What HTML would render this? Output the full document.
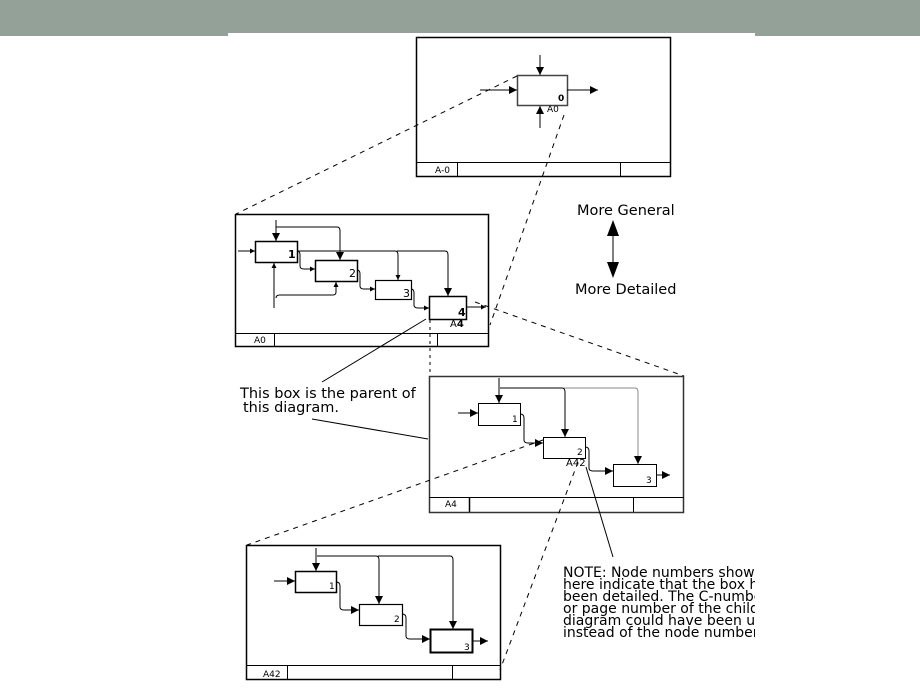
<!DOCTYPE html>
<html><head><style>
html,body{margin:0;padding:0;background:#fff;width:920px;height:690px;overflow:hidden}
svg{display:block}
text{font-family:"DejaVu Sans","Liberation Sans",sans-serif;fill:#000}
</style></head><body>
<svg width="920" height="690" viewBox="0 0 920 690" xmlns="http://www.w3.org/2000/svg">
<defs>
<marker id="a" viewBox="0 0 10 10" refX="10" refY="5" markerWidth="7" markerHeight="5" orient="auto" markerUnits="userSpaceOnUse"><path d="M0,0L10,5L0,10z" fill="#000"/></marker>
<marker id="b" viewBox="0 0 10 10" refX="10" refY="5" markerWidth="12" markerHeight="8" orient="auto" markerUnits="userSpaceOnUse"><path d="M0,0L10,5L0,10z" fill="#000"/></marker>
</defs>
<rect x="0" y="0" width="920" height="36" fill="#93a198"/>
<rect x="228" y="33" width="527" height="3" fill="#fff"/>

<g fill="none" stroke="#000" stroke-width="1">
<rect x="416.5" y="37.5" width="254" height="139" stroke-width="1.5"/>
<line x1="416" y1="162.5" x2="670" y2="162.5"/>
<line x1="457.5" y1="162" x2="457.5" y2="176"/>
<line x1="620.5" y1="162" x2="620.5" y2="176"/>
<rect x="517.5" y="75.5" width="50" height="30" stroke="#444" stroke-width="1.5"/>
<line x1="540" y1="55" x2="540" y2="75" marker-end="url(#b)"/>
<line x1="540" y1="128" x2="540" y2="106" marker-end="url(#b)"/>
<line x1="480" y1="90" x2="517" y2="90" marker-end="url(#b)"/>
<line x1="567" y1="90" x2="598" y2="90" marker-end="url(#b)"/>

<rect x="235.5" y="214.5" width="253" height="132" stroke-width="1.5"/>
<line x1="235" y1="333.5" x2="488" y2="333.5"/>
<line x1="274.5" y1="333" x2="274.5" y2="346"/>
<line x1="437.5" y1="333" x2="437.5" y2="346"/>
<rect x="255.5" y="241.5" width="42" height="21" stroke-width="1.5"/>
<rect x="315.5" y="260.5" width="42" height="21" stroke-width="1.5"/>
<rect x="375.5" y="280.5" width="36" height="19" stroke-width="1.2"/>
<rect x="429.5" y="296.5" width="37" height="23" stroke-width="1.5"/>
<line x1="238" y1="251" x2="255" y2="251" marker-end="url(#a)"/>
<line x1="276" y1="220" x2="276" y2="241" marker-end="url(#b)"/>
<path d="M276,227 H337 q3,0 3,4 V260" marker-end="url(#b)"/>
<path d="M297,251 H395 q3,0 3,4 V280" marker-end="url(#a)"/>
<path d="M397,251 H445 q3,0 3,4 V296" marker-end="url(#b)"/>
<path d="M297,251 q3,0 3,4 V266 q0,3 4,3 H315" marker-end="url(#a)"/>
<path d="M357,270 q3,0 3,4 V286 q0,3 4,3 H375" marker-end="url(#a)"/>
<path d="M411,289 q3,0 3,4 V305 q0,3 4,3 H429" marker-end="url(#a)"/>
<line x1="466" y1="307" x2="486" y2="307" marker-end="url(#a)"/>
<path d="M274,308 V263" marker-end="url(#a)"/>
<path d="M276,298 q0,-3 4,-3 H333 q3,0 3,-3 V282" marker-end="url(#a)"/>

<rect x="429.5" y="376.5" width="254" height="136" stroke-width="1.5" stroke="#333"/>
<line x1="429" y1="497.5" x2="684" y2="497.5"/>
<line x1="469.5" y1="497" x2="469.5" y2="512" stroke-width="1.5"/>
<line x1="633.5" y1="497" x2="633.5" y2="512"/>
<rect x="478.5" y="403.5" width="42" height="22"/>
<rect x="543.5" y="437.5" width="42" height="21"/>
<rect x="613.5" y="464.5" width="43" height="22"/>
<line x1="458" y1="413" x2="478" y2="413" marker-end="url(#b)"/>
<line x1="499" y1="378" x2="499" y2="403" marker-end="url(#b)"/>
<path d="M500,388 H562 q3,0 3,4 V437" marker-end="url(#b)"/>
<path d="M564,388 H635 q3,0 3,4 V464" marker-end="url(#b)" stroke="#888"/>
<path d="M520,414 q4,0 4,4 V440 q0,3 4,3 H543" marker-end="url(#b)"/>
<path d="M585,447 q4,0 4,4 V468 q0,3 4,3 H613" marker-end="url(#b)"/>
<line x1="656" y1="475" x2="670" y2="475" marker-end="url(#b)"/>

<rect x="246.5" y="545.5" width="254" height="134" stroke-width="1.5"/>
<line x1="246" y1="665.5" x2="500" y2="665.5"/>
<line x1="287.5" y1="665" x2="287.5" y2="679"/>
<line x1="452.5" y1="665" x2="452.5" y2="679"/>
<rect x="295.5" y="571.5" width="41" height="21" stroke-width="1.5"/>
<rect x="359.5" y="604.5" width="43" height="21" stroke-width="1.2"/>
<rect x="430.5" y="629.5" width="42" height="23" stroke-width="2"/>
<line x1="274" y1="581" x2="295" y2="581" marker-end="url(#b)"/>
<line x1="316" y1="548" x2="316" y2="571" marker-end="url(#b)"/>
<path d="M317,556 H376 q3,0 3,4 V604" marker-end="url(#b)"/>
<path d="M378,556 H450 q3,0 3,4 V629" marker-end="url(#b)"/>
<path d="M336,582 q4,0 4,4 V607 q0,3 4,3 H359" marker-end="url(#b)"/>
<path d="M402,614 q4,0 4,4 V636 q0,3 4,3 H430" marker-end="url(#b)"/>
<line x1="472" y1="641" x2="488" y2="641" marker-end="url(#b)"/>

<g stroke-dasharray="5,5">
<line x1="517" y1="76" x2="236" y2="214"/>
<line x1="564" y1="115" x2="490" y2="325"/>
<line x1="475" y1="302" x2="684" y2="376"/>
<line x1="430" y1="320" x2="430" y2="376" stroke-dasharray="3,4"/>
<line x1="543" y1="440" x2="247" y2="545"/>
<line x1="578" y1="462" x2="500" y2="670"/>
</g>
<line x1="426" y1="319" x2="322" y2="382"/>
<line x1="312" y1="419" x2="428" y2="439"/>
<line x1="586" y1="467" x2="613" y2="557"/>
<line x1="613" y1="230" x2="613" y2="268"/>
</g>
<path d="M613,220 L607,236 L619,236 Z" fill="#000"/>
<path d="M613,278 L607,262 L619,262 Z" fill="#000"/>

<g font-size="9">
<text x="435" y="173">A-0</text>
<text x="558" y="101" font-weight="bold">0</text>
<text x="547" y="112">A0</text>
<text x="254" y="343">A0</text>
<text x="288" y="258" font-family="Liberation Serif" font-weight="bold" font-size="11">1</text>
<text x="349" y="277" font-family="Liberation Serif" font-size="11">2</text>
<text x="403" y="297" font-family="Liberation Serif" font-size="11">3</text>
<text x="458" y="316" font-family="Liberation Serif" font-weight="bold" font-size="11">4</text>
<text x="450" y="327" font-size="10">A<tspan font-weight="bold">4</tspan></text>
<text x="445" y="507">A4</text>
<text x="512" y="422">1</text>
<text x="577" y="455">2</text>
<text x="646" y="483">3</text>
<text x="566" y="466" font-size="10">A42</text>
<text x="263" y="677">A42</text>
<text x="329" y="589">1</text>
<text x="394" y="622">2</text>
<text x="464" y="650">3</text>
</g>
<g font-size="14.5">
<text x="577" y="215">More General</text>
<text x="575" y="294">More Detailed</text>
<text x="240" y="398">This box is the parent of</text>
<text x="243" y="412">this diagram.</text>
</g>
<svg x="555" y="550" width="200" height="100">
<g font-size="14">
<text x="8" y="27">NOTE:  Node numbers shown</text>
<text x="8" y="39">here indicate that the box has</text>
<text x="8" y="51">been detailed.  The C-number</text>
<text x="8" y="63">or page number of the child</text>
<text x="8" y="75">diagram could have been used</text>
<text x="8" y="87">instead of the node number.</text>
</g>
</svg>
</svg>
</body></html>
